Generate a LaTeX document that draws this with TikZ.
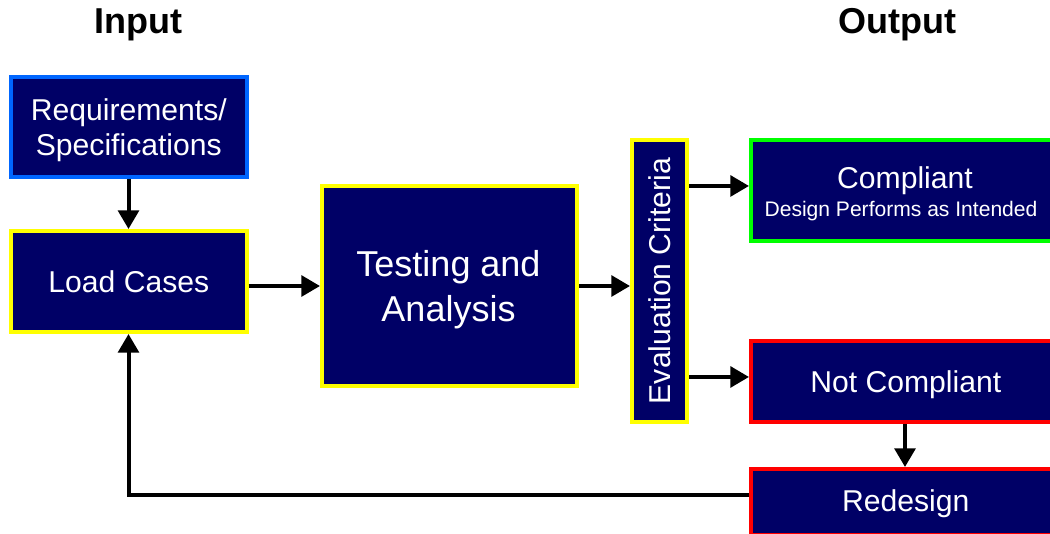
\documentclass[tikz,border=0pt]{standalone}
\usepackage{fontspec}
\setmainfont{Liberation Sans}
\usetikzlibrary{arrows.meta}
\newdimen\pxu \pxu=0.75pt
\definecolor{navy}{HTML}{000066}
\definecolor{bblue}{HTML}{0066FF}
\definecolor{byellow}{HTML}{FFFF00}
\definecolor{bgreen}{HTML}{00FF00}
\definecolor{bred}{HTML}{FF0000}
\tikzset{
  box/.style={draw=#1, fill=navy, line width=3pt, rectangle, inner sep=0pt},
  lbl/.style={text=white, anchor=base, inner sep=0pt, font=\fontsize{22.6}{26}\selectfont},
  biglbl/.style={lbl, font=\fontsize{27}{32}\selectfont},
  smalllbl/.style={lbl, font=\fontsize{15.8}{19}\selectfont},
  arr/.style={line width=3pt, -{Triangle[length=14pt,width=15.5pt]}},
  title/.style={font=\bfseries\fontsize{27}{32}\selectfont, text=black, anchor=base, inner sep=0pt}
}
\begin{document}
\begin{tikzpicture}[x=0.75pt,y=-0.75pt]
\useasboundingbox (0,0) rectangle (1050,533);
\clip (0,0) rectangle (1050,533);
\node[title] (tin) at (138,33) {Input};
\node[title] (tout) at (897,33) {Output};
% boxes
\node[box=bblue, minimum width=236\pxu, minimum height=100\pxu] (req) at (128.5,126.5) {};
\node[box=byellow, minimum width=236\pxu, minimum height=101\pxu] (load) at (128.5,281.5) {};
\node[box=byellow, minimum width=255\pxu, minimum height=200\pxu] (test) at (449.5,286) {};
\node[box=byellow, minimum width=55\pxu, minimum height=282\pxu] (eval) at (659.5,281) {};
\node[box=bgreen, minimum width=308\pxu, minimum height=101\pxu] (comp) at (905,190.5) {};
\node[box=bred, minimum width=308\pxu, minimum height=81\pxu] (nc) at (905,381.5) {};
\node[box=bred, minimum width=308\pxu, minimum height=66\pxu] (red) at (905,502) {};
% texts
\node[lbl] (reqa) at (128.8,120) {Requirements/};
\node[lbl] (reqb) at (128.8,155) {Specifications};
\node[lbl] (loadt) at (128.8,292) {Load Cases};
\node[biglbl] (testa) at (448.5,276.7) {Testing and};
\node[biglbl] (testb) at (448.5,321) {Analysis};
\node[lbl, rotate=90] (evalt) at (670,281) {Evaluation Criteria};
\node[lbl] (compt) at (905,188) {Compliant};
\node[smalllbl] (comps) at (901,216) {Design Performs as Intended};
\node[lbl] (nct) at (905.8,392.7) {Not Compliant};
\node[lbl] (redt) at (905.8,511.7) {Redesign};
% connectors
\draw[arr] (req.south) -- (load.north);
\draw[arr] (load.east |- test.west) -- (test.west);
\draw[arr] (test.east) -- (test.east -| eval.west);
\draw[arr] ([yshift=3.4pt]eval.east |- comp.west) -- ([yshift=3.4pt]comp.west);
\draw[arr] ([yshift=3.4pt]eval.east |- nc.west) -- ([yshift=3.4pt]nc.west);
\draw[arr] (nc.south) -- (nc.south |- red.north);
\draw[arr] ([yshift=5.25pt]red.west) -| (load.south);
\end{tikzpicture}
\end{document}
